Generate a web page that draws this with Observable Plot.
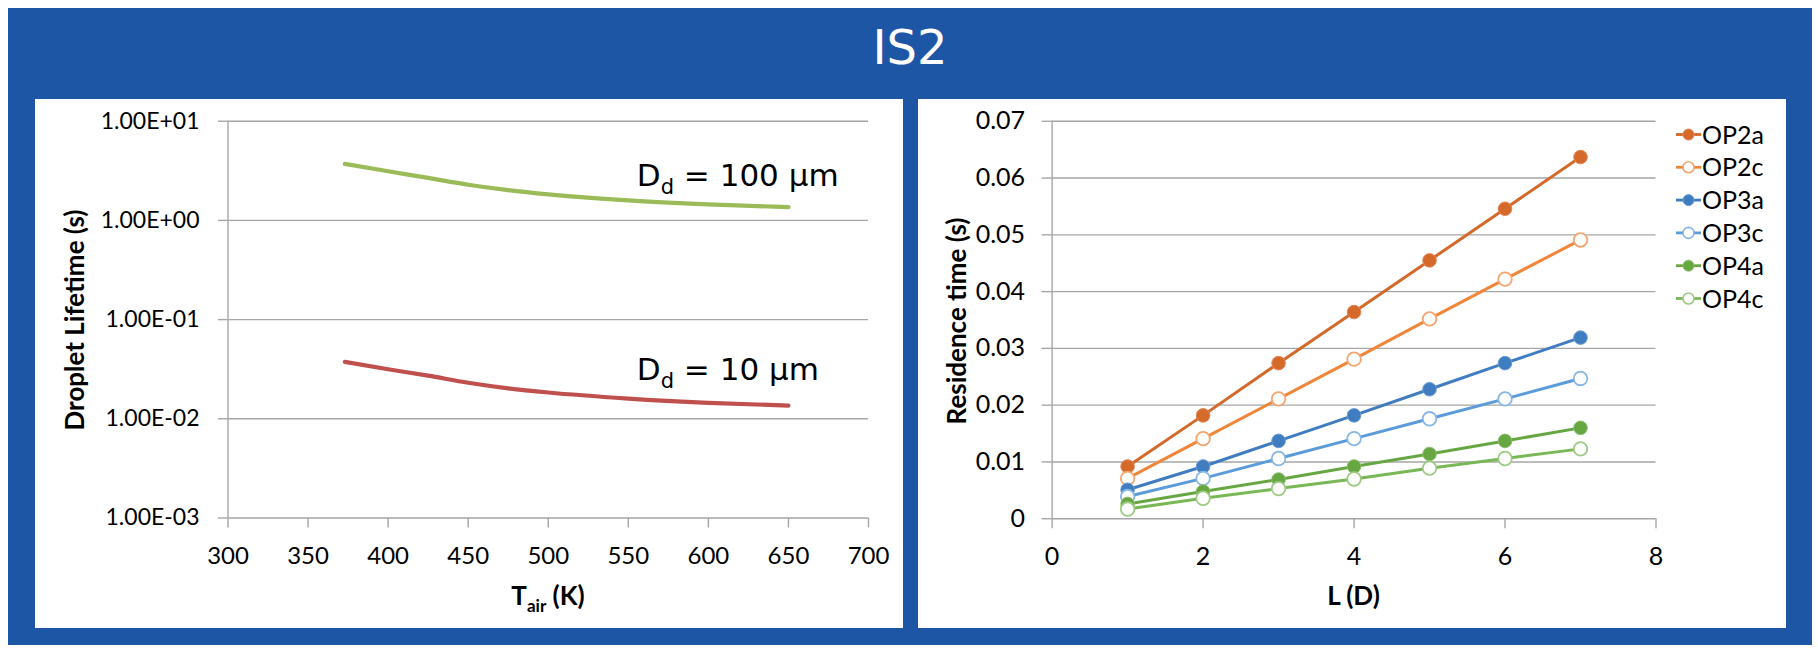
<!DOCTYPE html>
<html>
<head>
<meta charset="utf-8">
<script src="https://cdn.jsdelivr.net/npm/d3@7"></script>
<script src="https://cdn.jsdelivr.net/npm/@observablehq/plot@0.6"></script>
<style>
html,body{margin:0;padding:0;background:#fff;width:1818px;height:653px;overflow:hidden;}
#frame{position:absolute;left:8px;top:8px;width:1804px;height:637px;background:#1E56A6;}
#title{position:absolute;left:8px;width:1804px;top:19px;line-height:56px;text-align:center;color:#fff;font-family:"DejaVu Sans",sans-serif;font-size:48px;}
.panel{position:absolute;top:99px;height:529px;width:868px;background:#fff;}
#left{left:35px;}
#right{left:918px;}
.panel svg{position:absolute;left:0;top:0;}
</style>
</head>
<body>
<div id="frame"></div>
<div id="title">IS2</div>
<div class="panel" id="left"></div>
<div class="panel" id="right"></div>
<script>
// ---------- Left chart data ----------
const Tair = [373, 400, 425, 450, 475, 500, 550, 600, 650];
const life100 = [3.71, 3.13, 2.68, 2.29, 2.02, 1.83, 1.59, 1.45, 1.36];
const life10 = [0.0375, 0.0316, 0.0272, 0.0231, 0.0203, 0.0184, 0.0160, 0.0145, 0.0136];
const xTicksLeft = [300, 350, 400, 450, 500, 550, 600, 650, 700];
const yTicksLeft = [0.001, 0.01, 0.1, 1, 10];
const yTickLabelsLeft = ["1.00E-03", "1.00E-02", "1.00E-01", "1.00E+00", "1.00E+01"];
const leftTitleY = "Droplet Lifetime (s)";
const annot100 = {t: 555.6, v: 2.2, main: "D", sub: "d", rest: " = 100 μm"};
const annot10 = {t: 555.6, v: 0.0242, main: "D", sub: "d", rest: " = 10 μm"};

// ---------- Right chart data ----------
const Ld = [1, 2, 3, 4, 5, 6, 7];
const OP2a = [0.0092, 0.0182, 0.0274, 0.0364, 0.0455, 0.0546, 0.0637];
const OP2c = [0.0071, 0.0141, 0.0211, 0.0281, 0.0352, 0.0422, 0.0491];
const OP3a = [0.0051, 0.0092, 0.0137, 0.0182, 0.0228, 0.0274, 0.0319];
const OP3c = [0.0039, 0.0071, 0.0106, 0.0141, 0.0176, 0.0211, 0.0247];
const OP4a = [0.0026, 0.0048, 0.0069, 0.0092, 0.0114, 0.0137, 0.0160];
const OP4c = [0.0017, 0.0036, 0.0053, 0.0070, 0.0089, 0.0106, 0.0123];
const seriesNames = ["OP2a", "OP2c", "OP3a", "OP3c", "OP4a", "OP4c"];
const seriesValues = [OP2a, OP2c, OP3a, OP3c, OP4a, OP4c];
const seriesFilled = [true, false, true, false, true, false];
const seriesLine = ["#D4692A", "#F0863A", "#3F7DC0", "#5B9BD9", "#67A742", "#7AB756"];
const seriesMarkEdge = ["#E0895A", "#F5A56F", "#6C9CD2", "#86B6E6", "#8CBE6E", "#9ECB84"];
const xTicksRight = [0, 2, 4, 6, 8];
const yTicksRight = [0, 0.01, 0.02, 0.03, 0.04, 0.05, 0.06, 0.07];
const yTickLabelsRight = ["0", "0.01", "0.02", "0.03", "0.04", "0.05", "0.06", "0.07"];
const rightTitleY = "Residence time (s)";
const rightTitleX = "L (D)";

const gridColor = "#A6A6A6";
const tickFont = "Lato, 'Open Sans', sans-serif";

// ---------- Left plot ----------
const leftRows100 = Tair.map((t, i) => ({t, v: life100[i]}));
const leftRows10 = Tair.map((t, i) => ({t, v: life10[i]}));
const left = Plot.plot({
  width: 868, height: 529,
  marginLeft: 192.5, marginRight: 35, marginTop: 21.7, marginBottom: 110.5,
  x: {domain: [300, 700]},
  y: {type: "log", domain: [0.001, 10]},
  style: {fontFamily: tickFont, fontSize: "22px", color: "#000", background: "transparent", overflow: "visible"},
  marks: [
    Plot.gridY(yTicksLeft, {stroke: gridColor, strokeOpacity: 1, strokeWidth: 1.4}),
    Plot.ruleX([300], {stroke: gridColor, strokeWidth: 1.4}),
    Plot.axisY(yTicksLeft, {tickSize: 9.5, tickPadding: 19, stroke: gridColor, strokeWidth: 1.4, fill: "#000",
      tickFormat: d => yTickLabelsLeft[yTicksLeft.indexOf(d)], label: null, fontSize: 23}),
    Plot.axisX(xTicksLeft, {tickSize: 10, tickPadding: 19, stroke: gridColor, strokeWidth: 1.4, fill: "#000",
      tickFormat: d => String(d), label: null, fontSize: 24}),
    Plot.line(leftRows100, {x: "t", y: "v", stroke: "#9BBB59", strokeWidth: 4.2, curve: "monotone-x", strokeLinecap: "round"}),
    Plot.line(leftRows10, {x: "t", y: "v", stroke: "#C0504D", strokeWidth: 4.2, curve: "monotone-x", strokeLinecap: "round"})
  ]
});
document.getElementById("left").appendChild(left);

// ---------- Right plot ----------
const rightMarks = [
  Plot.gridY(yTicksRight, {stroke: gridColor, strokeOpacity: 1, strokeWidth: 1.4}),
  Plot.ruleX([0], {stroke: gridColor, strokeWidth: 1.4}),
  Plot.axisY(yTicksRight, {tickSize: 10, tickPadding: 17, stroke: gridColor, strokeWidth: 1.4, fill: "#000",
    tickFormat: d => yTickLabelsRight[yTicksRight.indexOf(d)], label: null, fontSize: 25}),
  Plot.axisX(xTicksRight, {tickSize: 10, tickPadding: 19, stroke: gridColor, strokeWidth: 1.4, fill: "#000",
    tickFormat: d => String(d), label: null, fontSize: 25})
];
seriesNames.forEach((name, k) => {
  const rows = Ld.map((l, i) => ({l, v: seriesValues[k][i]}));
  rightMarks.push(Plot.line(rows, {x: "l", y: "v", stroke: seriesLine[k], strokeWidth: 3}));
  rightMarks.push(Plot.dot(rows, {x: "l", y: "v", r: 6.8,
    fill: seriesFilled[k] ? seriesLine[k] : "#fff",
    stroke: seriesMarkEdge[k],
    strokeWidth: seriesFilled[k] ? 1 : 1.8}));
});
const right = Plot.plot({
  width: 868, height: 529,
  marginLeft: 133.6, marginRight: 130.5, marginTop: 21.8, marginBottom: 109.8,
  x: {domain: [0, 8]},
  y: {domain: [0, 0.07]},
  style: {fontFamily: tickFont, fontSize: "24px", color: "#000", background: "transparent", overflow: "visible"},
  marks: rightMarks
});
document.getElementById("right").appendChild(right);

// ---------- Titles, annotations, legend ----------
function addRotTitle(svg, text, cx, cy, size) {
  return d3.select(svg).append("text")
    .attr("transform", `translate(${cx},${cy}) rotate(-90)`)
    .attr("text-anchor", "middle").attr("dy", "0.36em")
    .style("font-family", tickFont).style("font-weight", "bold").style("font-size", size + "px")
    .attr("fill", "#000").text(text);
}
addRotTitle(left, leftTitleY, 40, 221, 26);
addRotTitle(right, rightTitleY, 39, 222, 26);

{
  const t = d3.select(left).append("text")
    .attr("x", 513).attr("y", 506).attr("text-anchor", "middle")
    .style("font-family", tickFont).style("font-weight", "bold").style("font-size", "26px").attr("fill", "#000");
  t.append("tspan").text("T");
  t.append("tspan").attr("dy", 7).style("font-size", "17px").text("air");
  t.append("tspan").attr("dy", -7).style("white-space", "pre").text(" (K)");
}
d3.select(right).append("text")
  .attr("x", 435.5).attr("y", 506).attr("text-anchor", "middle")
  .style("font-family", tickFont).style("font-weight", "bold").style("font-size", "26px").attr("fill", "#000")
  .text(rightTitleX);

// annotations placed through the left chart's scales
const xs = left.scale("x"), ys = left.scale("y");
[annot100, annot10].forEach(a => {
  const t = d3.select(left).append("text")
    .attr("x", xs.apply(a.t)).attr("y", ys.apply(a.v)).attr("text-anchor", "start")
    .style("font-family", "'DejaVu Sans', Verdana, sans-serif").style("font-size", "31px")
    .style("white-space", "pre").attr("fill", "#000");
  t.append("tspan").text(a.main);
  t.append("tspan").attr("dy", 8).style("font-size", "21px").text(a.sub);
  t.append("tspan").attr("dy", -8).text(a.rest);
});

// legend for the right chart
{
  const g = d3.select(right).append("g");
  seriesNames.forEach((name, k) => {
    const y = 35.5 + 32.8 * k;
    g.append("line").attr("x1", 758).attr("x2", 783).attr("y1", y).attr("y2", y)
      .attr("stroke", seriesLine[k]).attr("stroke-width", 2.8);
    g.append("circle").attr("cx", 770.5).attr("cy", y).attr("r", 5.5)
      .attr("fill", seriesFilled[k] ? seriesLine[k] : "#fff")
      .attr("stroke", seriesMarkEdge[k]).attr("stroke-width", seriesFilled[k] ? 1 : 1.6);
    g.append("text").attr("x", 784).attr("y", y).attr("dy", "0.36em").attr("text-anchor", "start")
      .style("font-family", tickFont).style("font-size", "25px").attr("fill", "#000").text(name);
  });
}
</script>
</body>
</html>
